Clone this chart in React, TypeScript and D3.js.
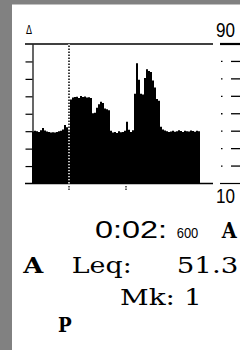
import React, { useEffect, useRef } from "react";
import * as d3 from "d3";

// level history, dB per 2px column
const levels = [
  39.8, 40.2, 40.0, 39.6, 40.5, 41.8, 40.4, 39.8, 39.5, 39.2, 39.4, 39.3, 39.6, 40.0, 40.3, 41.0, 43.6, 42.2, 40.0,
  58.2, 59.3, 59.6, 59.8, 59.1, 60.2, 59.6, 59.9, 59.3, 59.5, 59.0,
  50.3, 50.6, 53.5, 55.5, 56.9, 56.2, 53.0, 52.6, 52.0,
  40.3, 39.2, 39.5, 39.0, 40.0, 39.4, 39.6, 40.3, 45.4, 40.8, 39.5, 40.5,
  61.5, 79.0, 69.5, 61.5, 61.0, 70.5, 75.5, 74.5, 74.0, 69.0, 65.0, 58.5, 57.5, 42.5, 41.0,
  40.4, 40.0, 39.6, 39.8, 40.2, 39.7, 39.9, 40.5, 40.1, 39.6, 40.3, 40.0, 39.8, 40.4, 40.1, 39.7, 40.2, 40.0,
];
const yRange = [10, 90];
const yTicks = [20, 30, 40, 50, 60, 70, 80];
const cursorIndex = 18.5;
const timeMarks = [18.5, 47];
const scaleLabels = ["90", "10"];
const timeText = ["0:02:", "600"];
const weighting = "A";
const leqLabel = "Leq:";
const leqValue = "51.3";
const markerText = "Mk: 1";
const modeText = "P";

const App = () => {
  const ref = useRef<SVGSVGElement>(null);

  useEffect(() => {
    document.body.style.margin = "0";
    const svg = d3.select(ref.current);
    svg.selectAll("*").remove();

    const x = d3.scaleLinear().domain([0, levels.length]).range([32, 200]);
    const y = d3.scaleLinear().domain(yRange).range([183.5, 44]);

    svg.append("rect").attr("width", 240).attr("height", 350).attr("fill", "#818181");
    svg.append("rect").attr("x", 12).attr("y", 4.5).attr("width", 228).attr("height", 346).attr("fill", "#fff");

    const pts: [number, number][] = levels.map((v, i) => [i, v]);
    pts.push([levels.length, levels[levels.length - 1]]);
    const area = d3
      .area<[number, number]>()
      .x((d) => x(d[0]))
      .y0(y(yRange[0]))
      .y1((d) => y(d[1]))
      .curve(d3.curveStepAfter);
    svg.append("path").attr("d", area(pts)).attr("fill", "#000");

    // frame lines
    [yRange[1], yRange[0]].forEach((v) => {
      svg.append("line")
        .attr("x1", 25).attr("x2", 213)
        .attr("y1", y(v)).attr("y2", y(v))
        .attr("stroke", "#000").attr("stroke-width", 1.5);
    });

    const left = svg.append("g").attr("transform", "translate(32.5,0)")
      .call(d3.axisLeft(y).tickValues(yTicks).tickSize(7).tickSizeOuter(0).tickFormat(() => ""));
    left.selectAll("path,line").attr("stroke", "#000").attr("stroke-width", 1.2);

    // cursor
    svg.append("line")
      .attr("x1", x(cursorIndex)).attr("x2", x(cursorIndex))
      .attr("y1", y(yRange[1])).attr("y2", y(yRange[0]))
      .attr("stroke", "#fff").attr("stroke-width", 1.5)
      .attr("stroke-dasharray", "1.5,1.5");
    svg.append("line")
      .attr("x1", x(cursorIndex)).attr("x2", x(cursorIndex))
      .attr("y1", y(yRange[1])).attr("y2", y(yRange[0]))
      .attr("stroke", "#000").attr("stroke-width", 1.5)
      .attr("stroke-dasharray", "1.5,1.5").attr("stroke-dashoffset", 1.5);
    svg.selectAll("line.tm").data(timeMarks).enter().append("line")
      .attr("x1", (d) => x(d)).attr("x2", (d) => x(d))
      .attr("y1", 186).attr("y2", 190)
      .attr("stroke", "#000").attr("stroke-width", 1.2)
      .attr("stroke-dasharray", "1.5,1");

    // right scale
    svg.append("line").attr("x1", 220).attr("x2", 240)
      .attr("y1", y(yRange[1])).attr("y2", y(yRange[1]))
      .attr("stroke", "#000").attr("stroke-width", 2.2);
    svg.append("line").attr("x1", 220).attr("x2", 240)
      .attr("y1", y(yRange[0])).attr("y2", y(yRange[0]))
      .attr("stroke", "#000").attr("stroke-width", 1.2);
    const rt = svg.selectAll("g.rt").data(yTicks).enter().append("g")
      .attr("transform", (d) => `translate(0,${y(d)})`);
    rt.append("line").attr("x1", 221).attr("x2", 222.5).attr("stroke", "#000").attr("stroke-width", 1.3);
    rt.append("line").attr("x1", 231).attr("x2", 240).attr("stroke", "#000").attr("stroke-width", 1.3);

    const txt = (s: string, tx: number, ty: number, size: number, len: number, family: string, weight = "normal") =>
      svg.append("text")
        .attr("x", tx).attr("y", ty)
        .attr("font-family", family).attr("font-size", size).attr("font-weight", weight)
        .attr("textLength", len).attr("lengthAdjust", "spacingAndGlyphs")
        .attr("fill", "#000").text(s);

    const sans = "Liberation Sans";
    const serif = "DejaVu Serif";
    txt("Δ", 26, 33.5, 13, 6, "DejaVu Sans");
    txt(scaleLabels[0], 216, 37, 20, 19, sans);
    txt(scaleLabels[1], 216, 203, 20, 19, sans);
    txt(timeText[0], 95, 238.3, 23, 72, sans);
    txt(timeText[1], 176.7, 238.3, 14.5, 21.6, sans);
    txt(weighting, 221.7, 238.3, 23, 15, serif, "bold");
    txt(weighting, 23.3, 273.3, 23, 20, serif, "bold");
    txt(leqLabel, 71.7, 273.3, 23, 60, serif);
    txt(leqValue, 176.7, 273.3, 23, 61.6, serif);
    txt(markerText, 120, 305, 23, 81.7, serif);
    txt(modeText, 58, 331.7, 21, 13.7, serif, "bold");
  }, []);

  return <svg ref={ref} width={240} height={350} style={{ display: "block" }} />;
};

export default App;
